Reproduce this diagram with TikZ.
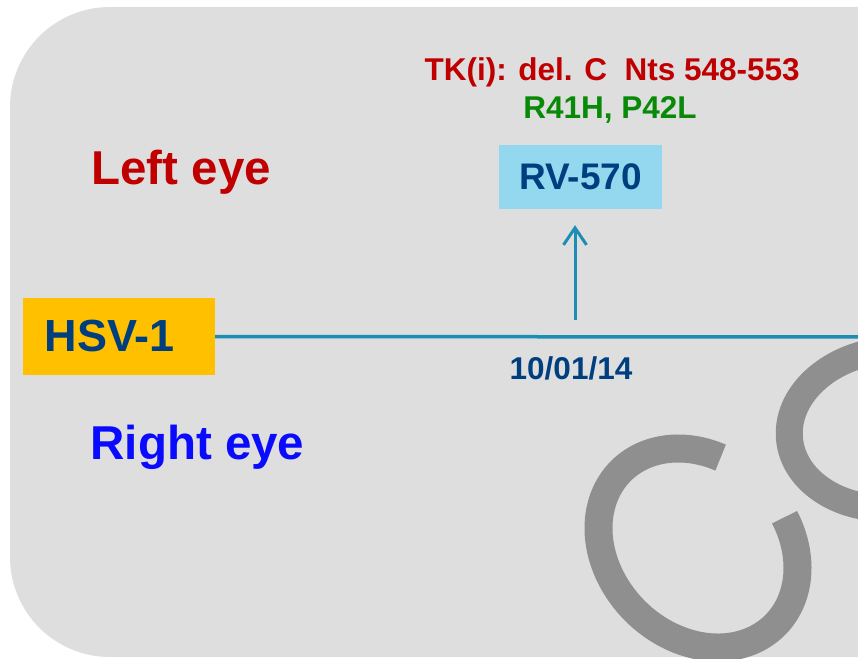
\documentclass[tikz,border=0pt]{standalone}
\usepackage{fontspec}
\setmainfont{Liberation Sans}
\usetikzlibrary{arrows.meta}

\definecolor{panelgray}{HTML}{DEDEDE}
\definecolor{markgray}{HTML}{8F8F8F}
\definecolor{hsvgold}{HTML}{FFC000}
\definecolor{rvblue}{HTML}{93D8EF}
\definecolor{navy}{HTML}{003F7F}
\definecolor{linkblue}{HTML}{1C8DB4}
\definecolor{mutred}{HTML}{C00000}
\definecolor{mutgreen}{HTML}{088A08}
\definecolor{eyeblue}{HTML}{0A0AFF}

% bold Liberation Sans at a given size (in pt)
\newcommand\boldsz[1]{\fontsize{#1}{#1}\selectfont\bfseries}

\begin{document}
\begin{tikzpicture}[x=1pt,y=-1pt,
  strainbox/.style={fill=#1, inner sep=0pt, text=navy},
  eyelabel/.style={anchor=base west, text=#1, font=\boldsz{47.5}},
  mutlabel/.style={text=#1, font=\boldsz{31.5}},
  timeline/.style={linkblue, line width=3.5pt},
  samplearrow/.style={linkblue, line width=3pt, -{Straight Barb[length=17pt,width=23pt]}},
  logostroke/.style={markgray, line width=#1}
]
\useasboundingbox (0,0) rectangle (858,658);

\begin{scope}
  \clip (0,0) rectangle (858,658);
  % grey panel with rounded left corners
  \fill[panelgray, rounded corners=100pt] (10,7) rectangle (1000,657);
  % watermark letters in the lower right (drawn in a y-up local frame)
  \begin{scope}[shift={(698,548)}, y=1pt, rotate=-45]
    \draw[logostroke=28pt] (116.1:109 and 89)
      arc[start angle=116.1, end angle=428.8, x radius=109, y radius=89];
  \end{scope}
  \begin{scope}[shift={(892,429)}, y=1pt, rotate=6]
    \draw[logostroke=27pt] (0,0) ellipse [x radius=103, y radius=79];
  \end{scope}
\end{scope}

% strain boxes
\node[strainbox=hsvgold, minimum width=192pt, minimum height=77pt,
      text width=148.8pt, inner xsep=21.6pt, align=left, font=\boldsz{45}]
  (hsv) at (119,336.5) {HSV-1};
\node[strainbox=rvblue, minimum width=163pt, minimum height=64pt, font=\boldsz{37}]
  (rv) at (580.5,177) {RV-570};

% eye labels
\node[eyelabel=mutred] (left) at (88,184) {Left eye};
\node[eyelabel=eyeblue] (right) at (87,459) {Right eye};

% mutation labels
\node[mutlabel=mutred, anchor=base west] (tk) at (421,80.7) {TK(i): del. C\ \ Nts 548-553};
\node[mutlabel=mutgreen, anchor=base] (aa) at (610,118) {R41H, P42L};

% timeline
\coordinate (lineend) at (870,337);
\coordinate (tap) at (575,320);
\draw[timeline] (hsv.east) -- (lineend);
\draw[samplearrow, shorten >=16pt] (tap) -- (tap |- rv.south);
\node[text=navy, font=\boldsz{31.5}, anchor=base] (date) at (571,379) {10/01/14};
\end{tikzpicture}
\end{document}
